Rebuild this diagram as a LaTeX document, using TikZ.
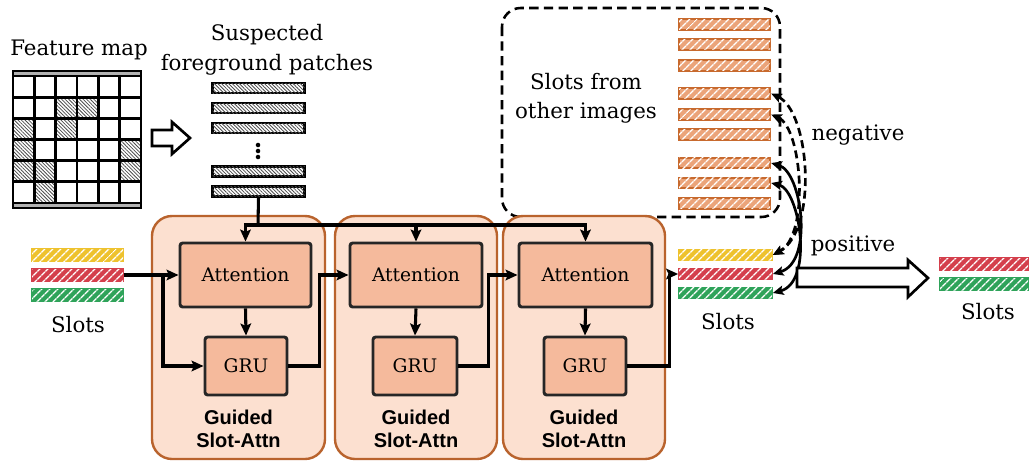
\documentclass[tikz,border=0pt]{standalone}
\usepackage{fontspec}
\setmainfont{DejaVu Serif}
\newfontfamily\gsans{Liberation Sans}
\usetikzlibrary{arrows.meta,patterns.meta}
\definecolor{gfill}{HTML}{FCE0D0}
\definecolor{gborder}{HTML}{B9632D}
\definecolor{ifill}{HTML}{F5BA9C}
\definecolor{slotY}{HTML}{EEC22E}
\definecolor{slotR}{HTML}{D43F4C}
\definecolor{slotG}{HTML}{2FA35A}
\definecolor{slotO}{HTML}{C86A2E}
\definecolor{slotOf}{HTML}{EBA47A}
\begin{document}
\begin{tikzpicture}[x=0.75pt,y=-0.75pt,
  lbl/.style={inner sep=0pt,font=\fontsize{16}{19}\selectfont,align=center},
  slot/.style={draw=#1,line width=1.3pt,fill=#1,inner sep=0pt,
     postaction={pattern={Lines[angle=45,distance=4pt,line width=1.1pt]},pattern color=white}},
  oslot/.style={draw=slotO,line width=1.7pt,fill=slotOf,inner sep=0pt,minimum width=68.25pt,minimum height=7.9pt,
     postaction={pattern={Lines[angle=45,distance=4pt,line width=1.1pt]},pattern color=white}},
  patch/.style={draw=black,line width=1.7pt,fill=white,inner sep=0pt,minimum width=69pt,minimum height=7.5pt,
     postaction={pattern={Lines[angle=-45,distance=1.9pt,line width=0.6pt]},pattern color=black!70}},
  guided/.style={draw=gborder,fill=gfill,line width=1.8pt,rounded corners=15pt,inner sep=0pt},
  inner/.style={draw=black!85,fill=ifill,line width=2.2pt,rounded corners=2pt,inner sep=0pt,
     font=\fontsize{14}{16}\selectfont},
  arr/.style={line width=2.3pt,-{Stealth[length=9pt,width=8pt,inset=1.8pt]}},
  plain/.style={line width=2.3pt},
  curv/.style={line width=2pt,{Stealth[length=8pt,width=7pt,inset=1.6pt]}-{Stealth[length=8pt,width=7pt,inset=1.6pt]}},
  hollow/.style={draw=black,fill=white,line width=2pt,line join=miter}
]
\useasboundingbox (0,0) rectangle (1030,464);

% ---------- feature map ----------
\node[lbl] (fmlabel) at (79,50) {Feature map};
\fill[black!30] (13,71) rectangle (141,76);
\fill[black!30] (13,203) rectangle (141,208);
\foreach \c/\r in {2/1,3/1,0/2,2/2,0/3,5/3,0/4,1/4,5/4,1/5}
  \fill[pattern={Lines[angle=-45,distance=1.9pt,line width=0.6pt]},pattern color=black!70]
    ({13+\c*21.333},{76+\r*21.167}) rectangle +(21.333,21.167);
\draw[line width=2.2pt] (13,71) rectangle (141,208);
\foreach \i in {1,...,5} \draw[line width=2.2pt] ({13+\i*21.333},76) -- ({13+\i*21.333},203);
\foreach \i in {0,...,6} \draw[line width=2.2pt] (13,{76+\i*21.167}) -- (141,{76+\i*21.167});

% hollow arrow 1
\draw[hollow] (152,130) -- (172,130) -- (172,122) -- (190,138) -- (172,154) -- (172,146) -- (152,146) -- cycle;

% ---------- patches ----------
\node[lbl] (suslabel) at (267,35) {Suspected};
\node[lbl] (fglabel) at (267,65) {foreground patches};
\node[patch] (P1) at (258.5,88) {};
\node[patch] (P2) at (258.5,108) {};
\node[patch] (P3) at (258.5,128) {};
\node[patch] (P4) at (258.5,171.5) {};
\node[patch] (P5) at (258.5,191.5) {};
\foreach \yy in {145,151,157} \fill (258,\yy) circle (1.7pt);

% ---------- dashed box ----------
\draw[dashed,dash pattern=on 7pt off 4pt,line width=1.9pt,rounded corners=14pt] (502,8) rectangle (780,217);
\node[lbl] (oth1) at (586,82) {Slots from};
\node[lbl] (oth2) at (586,113) {other images};

% ---------- guided boxes ----------
\node[guided,minimum width=129.75pt,minimum height=182.25pt] (GA) at (238.5,337.5) {};
\node[guided,minimum width=121.5pt,minimum height=182.25pt] (GB) at (416,337.5) {};
\node[guided,minimum width=121.5pt,minimum height=182.25pt] (GC) at (584,337.5) {};
\foreach \n/\xx in {ga/238.5,gb/416,gc/584}
  \node[inner sep=0pt,align=center,font=\gsans\bfseries\fontsize{15}{17}\selectfont] (\n) at (\xx,429) {Guided\\Slot-Attn};

\node[inner,minimum width=98.25pt,minimum height=48pt] (A1) at (245.5,275) {Attention};
\node[inner,minimum width=99pt,minimum height=48pt] (A2) at (416,275) {Attention};
\node[inner,minimum width=99.75pt,minimum height=48pt] (A3) at (585.5,275) {Attention};
\node[inner,minimum width=61.5pt,minimum height=43.5pt] (U1) at (246,366) {GRU};
\node[inner,minimum width=63pt,minimum height=43.5pt] (U2) at (415,366) {GRU};
\node[inner,minimum width=61.5pt,minimum height=43.5pt] (U3) at (585,366) {GRU};

% ---------- slots ----------
\node[slot=slotY,minimum width=68.25pt,minimum height=9pt] (LY) at (77.5,255) {};
\node[slot=slotR,minimum width=68.25pt,minimum height=9pt] (LR) at (77.5,275) {};
\node[slot=slotG,minimum width=68.25pt,minimum height=9pt] (LG) at (77.5,295) {};
\node[lbl] (lslots) at (78,325) {Slots};

\node[slot=slotY,minimum width=69.75pt,minimum height=8.25pt] (RY) at (725.5,255) {};
\node[slot=slotR,minimum width=69.75pt,minimum height=8.25pt] (RR) at (725.5,274) {};
\node[slot=slotG,minimum width=69.75pt,minimum height=8.25pt] (RG) at (725.5,293) {};
\node[lbl] (rslots) at (728,322) {Slots};

\foreach \n/\yy in {O1/24.5,O2/44.5,O3/65.5,O4/93.5,O5/114.5,O6/134.5,O7/163,O8/183,O9/203.5}
  \node[oslot] (\n) at (724.5,\yy) {};

\node[slot=slotR,minimum width=66pt,minimum height=9pt] (FR) at (984,264) {};
\node[slot=slotG,minimum width=66pt,minimum height=9pt] (FG) at (984,284) {};
\node[lbl] (fslots) at (988,312) {Slots};

% ---------- flow ----------
\coordinate (t0) at (258,225);
\draw[plain] (P5.south) -- (t0);
\draw[arr] (t0) -| (A1.north);
\draw[arr] (t0) -| (A2.north);
\draw[arr] (t0) -| (A3.north);

\coordinate (b1) at (163,275);
\draw[arr] (LR.east) -- (A1.west);
\draw[arr] (b1) |- (U1.west);
\draw[arr] (A1.south) -- (U1.north);
\draw[arr] (A2.south) -- (U2.north);
\draw[arr] (A3.south) -- (U3.north);
\draw[arr] (U1.east) -- ++(31,0) |- (A2.west);
\draw[arr] (U2.east) -- ++(30,0) |- (A3.west);
\draw[arr] (U3.east) -- ++(42,0) |- (RR.west);

% ---------- contrastive curves ----------
\draw[curv,dashed,dash pattern=on 6pt off 3.5pt] (O4.east) .. controls (810,112) and (818,230) .. (RY.east);
\draw[curv,dashed,dash pattern=on 6pt off 3.5pt] (O5.east) .. controls (802,128) and (810,235) .. (RY.east);
\draw[curv] (O7.east) .. controls (802,172) and (814,262) .. (RR.east);
\draw[curv] (O8.east) .. controls (800,190) and (814,282) .. (RG.east);
\node[lbl] (neg) at (858,135) {negative};
\node[lbl] (pos) at (853,246) {positive};

% hollow arrow 2
\draw[hollow] (797,268) -- (908,268) -- (908,260) -- (928,278) -- (908,297) -- (908,287) -- (797,287) -- cycle;
\end{tikzpicture}
\end{document}
